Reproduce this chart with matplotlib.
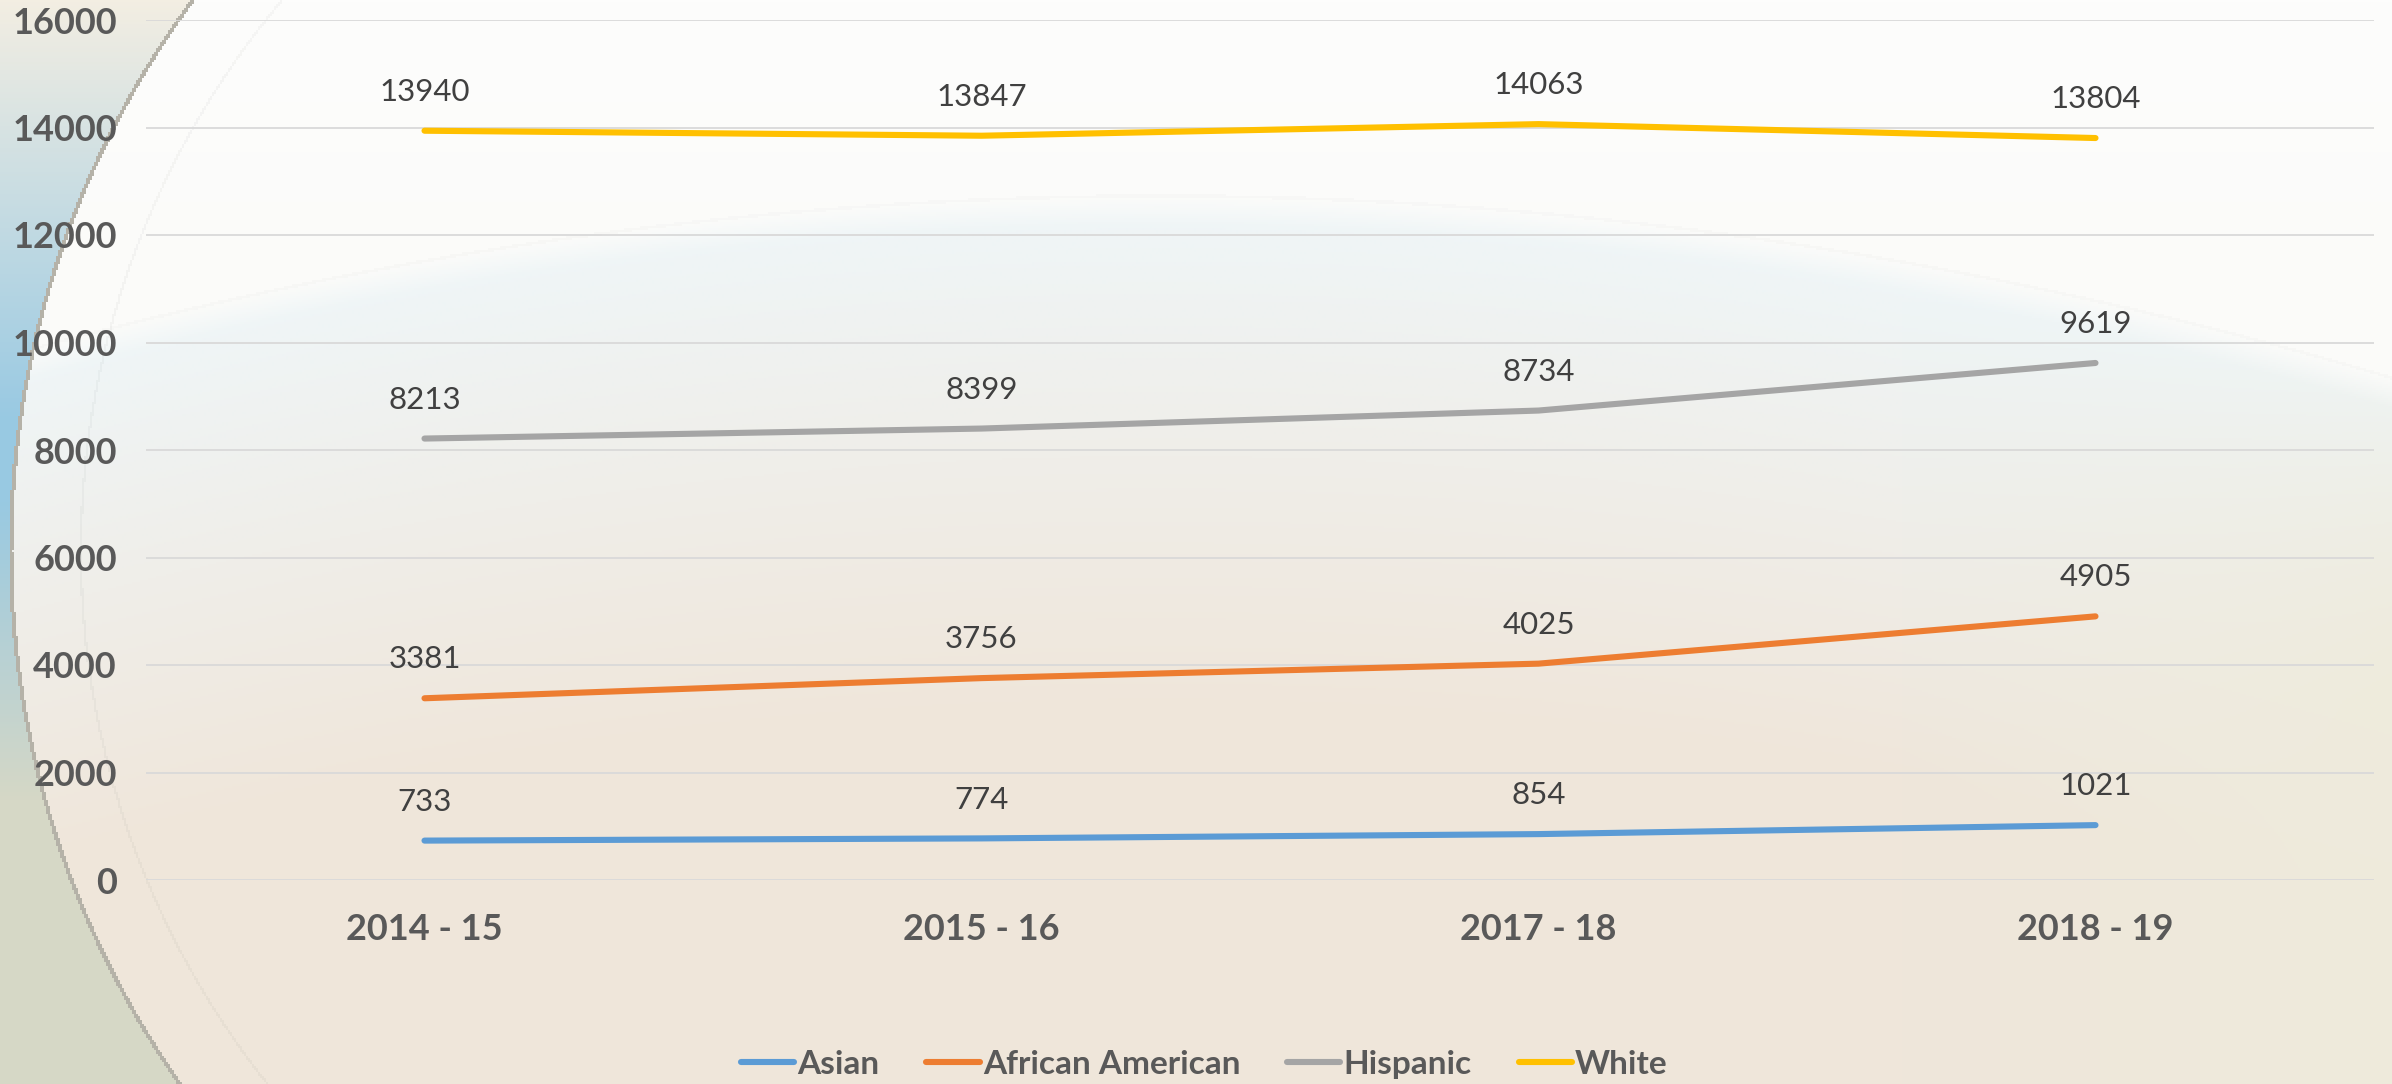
import numpy as np
import matplotlib.pyplot as plt
from matplotlib.colors import to_rgb

# data
years = ["2014 - 15", "2015 - 16", "2017 - 18", "2018 - 19"]
asian = [733, 774, 854, 1021]
african_american = [3381, 3756, 4025, 4905]
hispanic = [8213, 8399, 8734, 9619]
white = [13940, 13847, 14063, 13804]

series = [
    ("Asian", asian, "#5B9BD5"),
    ("African American", african_american, "#ED7D31"),
    ("Hispanic", hispanic, "#A5A5A5"),
    ("White", white, "#FFC000"),
]

W, H = 2392, 1084
fig = plt.figure(figsize=(W / 100, H / 100), dpi=100)

# background (decorative gradient + arcs)
h, w = H // 2, W // 2
yy, xx = np.mgrid[0:h, 0:w]
yy = yy * 2.0
xx = xx * 2.0


def rgb(c):
    if isinstance(c, str):
        return np.array(to_rgb(c))
    return c


def mix(c1, c2, t):
    t = np.clip(t, 0, 1)[..., None]
    return rgb(c1) * (1 - t) + rgb(c2) * t


arc_y = 195 + 0.00012 * (xx - 1160) ** 2
bg = mix("#FDFDFC", "#FBFBF9", yy / 300)
below = mix("#EFF6F8", "#EFE6DA", (yy - arc_y) / 520)
below = mix(below, "#EEEBDC", np.clip((xx - 1900) / 500, 0, 1) * np.clip((yy - 300) / 400, 0, 1))
soft = np.clip((yy - arc_y) / 30, 0, 1)[..., None]
bg = bg * (1 - soft) + below * soft
line_arc = np.abs(yy - arc_y) < 1.5
bg[line_arc] = bg[line_arc] * 0.985

cx, cy, r = 935, 550, 925
dist = np.sqrt((xx - cx) ** 2 + (yy - cy) ** 2)
outside = (dist > r) & (xx < cx)
left_col = mix("#F3EEE2", "#98C9E2", yy / 420)
left_col2 = mix("#98C9E2", "#D6D8C6", (yy - 500) / 300)
left_col = np.where((yy > 500)[..., None], left_col2, left_col)
bg = np.where(outside[..., None], left_col, bg)
edge = (np.abs(dist - r) < 2) & (xx < cx)
bg[edge] = to_rgb("#B5B2A8")
edge2 = (np.abs(dist - (r - 70)) < 1.2) & (xx < cx)
bg[edge2] = bg[edge2] * 0.97

bgax = fig.add_axes([0, 0, 1, 1], zorder=-1)
bgax.imshow(bg, aspect="auto", extent=[0, W, H, 0])
bgax.axis("off")

# chart
ax = fig.add_axes([146 / W, 1 - 880 / H, (2374 - 146) / W, (880 - 20) / H])
ax.set_facecolor("none")
x = np.arange(len(years))
for name, vals, col in series:
    ax.plot(x, vals, color=col, lw=4.4, solid_capstyle="round", label=name)
    for xi, v in zip(x, vals):
        ax.annotate(str(v), (xi, v), xytext=(0, 28), textcoords="offset points",
                    ha="center", va="center", fontsize=22.5, color="#404040",
                    family="Lato")

ax.set_xlim(-0.5, 3.5)
ax.set_ylim(0, 16000)
ax.set_yticks(range(0, 16001, 2000))
ax.set_xticks(x)
ax.set_xticklabels(years)
ax.grid(axis="y", color="#D9D9D9", lw=1.3)
ax.set_axisbelow(True)
for s in ax.spines.values():
    s.set_visible(False)
ax.tick_params(length=0, labelsize=26, labelcolor="#595959")
ax.tick_params(axis="y", pad=21)
ax.tick_params(axis="x", pad=24)
for lab in ax.get_xticklabels() + ax.get_yticklabels():
    lab.set_fontweight("bold")
    lab.set_family("Lato")

ax.legend(loc="lower center", bbox_to_anchor=(0.475, -0.266), ncol=4, frameon=False,
          prop={"family": "Lato", "weight": "bold", "size": 24},
          labelcolor="#595959", handlelength=1.6, handletextpad=0.1, columnspacing=1.4)

fig.savefig("out.png", dpi=100)
